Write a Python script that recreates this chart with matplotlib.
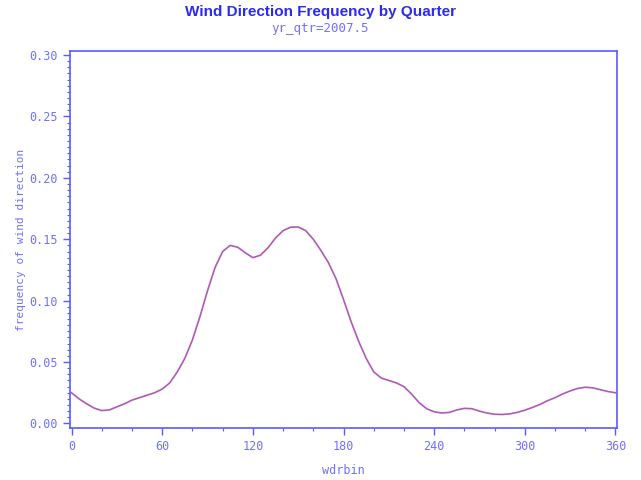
import matplotlib.pyplot as plt
import numpy as np
from matplotlib.ticker import MultipleLocator, FormatStrFormatter

# smoothed wind direction frequency, yr_qtr 2007.5
wdrbin = [0, 5, 10, 15, 20, 25, 30, 35, 40, 45, 50, 55, 60, 65, 70, 75, 80, 85,
          90, 95, 100, 105, 110, 115, 120, 125, 130, 135, 140, 145, 150, 155, 160,
          165, 170, 175, 180, 185, 190, 195, 200, 205, 210, 215, 220, 225, 230,
          235, 240, 245, 250, 255, 260, 265, 270, 275, 280, 285, 290, 295, 300,
          305, 310, 315, 320, 325, 330, 335, 340, 345, 350, 355, 360]
freq = [0.0250, 0.0200, 0.0160, 0.0125, 0.0105, 0.0110, 0.0135, 0.0160, 0.0190,
        0.0210, 0.0230, 0.0250, 0.0280, 0.0330, 0.0420, 0.0530, 0.0680, 0.0870,
        0.1080, 0.1270, 0.1400, 0.1450, 0.1435, 0.1390, 0.1350, 0.1370, 0.1430,
        0.1510, 0.1570, 0.1598, 0.1600, 0.1570, 0.1500, 0.1410, 0.1310, 0.1180,
        0.1010, 0.0830, 0.0670, 0.0530, 0.0420, 0.0370, 0.0350, 0.0330, 0.0300,
        0.0240, 0.0170, 0.0120, 0.0095, 0.0085, 0.0090, 0.0110, 0.0123, 0.0120,
        0.0100, 0.0085, 0.0075, 0.0073, 0.0078, 0.0090, 0.0108, 0.0130, 0.0155,
        0.0185, 0.0210, 0.0240, 0.0265, 0.0285, 0.0295, 0.0290, 0.0275, 0.0260,
        0.0250]

axis_blue = '#5a5aff'
text_blue = '#7070ff'
line_col = '#b058b8'

fig = plt.figure(figsize=(6.41, 4.80), dpi=100)
ax = fig.add_axes([70/641, 52/480, 547/641, 377/480])

ax.plot(wdrbin, freq, color=line_col, lw=1.2, solid_joinstyle='round')

ax.set_xlim(-1, 361)
ax.set_ylim(-0.0037, 0.3033)
ax.xaxis.set_major_locator(MultipleLocator(60))
ax.xaxis.set_minor_locator(MultipleLocator(20))
ax.yaxis.set_major_locator(MultipleLocator(0.05))
ax.yaxis.set_minor_locator(MultipleLocator(0.005))
ax.yaxis.set_major_formatter(FormatStrFormatter('%.2f'))

for s in ax.spines.values():
    s.set_color(axis_blue)
    s.set_linewidth(1.2)

ax.tick_params(which='both', direction='out', colors=axis_blue, labelcolor=text_blue)
ax.tick_params(which='major', length=5, width=1.0, labelsize=8.5)
ax.tick_params(which='minor', length=2.5, width=0.8)
for lab in ax.get_xticklabels() + ax.get_yticklabels():
    lab.set_family('DejaVu Sans Mono')

ax.set_xlabel('wdrbin', family='DejaVu Sans Mono', fontsize=8.5, color=text_blue)
ax.set_ylabel('frequency of wind direction', family='DejaVu Sans Mono', fontsize=8,
              color=text_blue)
ax.xaxis.set_label_coords(0.5, -0.095)
ax.yaxis.set_label_coords(-0.08, 0.5)

fig.text(0.5, 0.975, 'Wind Direction Frequency by Quarter', ha='center', va='center',
         family='Liberation Sans', fontsize=11, fontweight='bold', color='#2a2af0')
fig.text(0.5, 0.94, 'yr_qtr=2007.5', ha='center', va='center',
         family='DejaVu Sans Mono', fontsize=9, color=text_blue)

fig.savefig('out.png', dpi=100)
